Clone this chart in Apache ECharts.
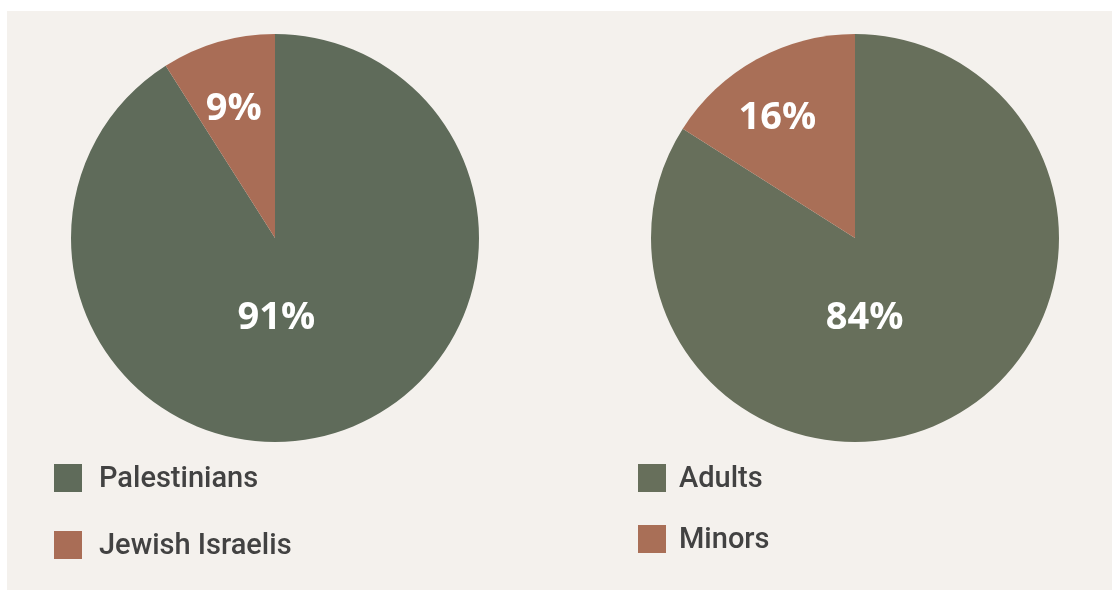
<!DOCTYPE html>
<html><head><meta charset="utf-8">
<script src="https://cdn.jsdelivr.net/npm/echarts@6/dist/echarts.min.js"></script>
<style>html,body{margin:0;padding:0;background:#fff;}#c{width:1112px;height:590px;}</style>
</head><body><div id="c"></div>
<script>
const leftCategories = ['Palestinians', 'Jewish Israelis'];
const leftValues = [91, 9];
const rightCategories = ['Adults', 'Minors'];
const rightValues = [84, 16];

const leftColors = ['#5f6b5a', '#a96d56'];
const rightColors = ['#676f5b', '#a96f57'];
const leftOffsets = [[-28, -21], [-12, -28]];
const rightOffsets = [[-41, -12], [-27, -28]];

function build(cats, vals, colors, offsets) {
  return cats.map((n, i) => ({
    name: n, value: vals[i],
    itemStyle: { color: colors[i] },
    label: { offset: offsets[i] }
  }));
}
const labelStyle = {
  show: true, position: 'inside', formatter: '{c}%',
  color: '#ffffff', fontFamily: 'Open Sans', fontWeight: 'bold', fontSize: 38
};
function legendText(leftPad) {
  return {
    fontFamily: 'Roboto', fontWeight: 500, fontSize: 29, lineHeight: 22, color: '#424242',
    rich: { a: { fontFamily: 'Roboto', fontWeight: 500, fontSize: 29, color: '#424242', lineHeight: 22, padding: [3, 0, 0, leftPad] } }
  };
}
const chart = echarts.init(document.getElementById('c'), null, {renderer: 'canvas'});
chart.setOption({
  backgroundColor: '#ffffff',
  animation: false,
  graphic: [{ type: 'rect', z: -10, shape: { x: 7, y: 11, width: 1105, height: 579 }, style: { fill: '#f4f1ed' } }],
  legend: [
    { data: leftCategories, orient: 'vertical', left: 54, top: 462, padding: 0, itemWidth: 28, itemHeight: 28, itemGap: 35,
      icon: 'rect', selectedMode: false, formatter: '{a|{name}}', textStyle: legendText(12) },
    { data: rightCategories, orient: 'vertical', left: 638, top: 462, padding: 0, itemWidth: 28, itemHeight: 28, itemGap: 29,
      icon: 'rect', selectedMode: false, formatter: '{a|{name}}', textStyle: legendText(8) }
  ],
  series: [
    { type: 'pie', center: [275, 238], radius: 204, startAngle: 90, clockwise: true, silent: true,
      label: labelStyle, labelLine: { show: false }, itemStyle: { borderWidth: 0 },
      data: build(leftCategories, leftValues, leftColors, leftOffsets) },
    { type: 'pie', center: [855, 238], radius: 204, startAngle: 90, clockwise: true, silent: true,
      label: labelStyle, labelLine: { show: false }, itemStyle: { borderWidth: 0 },
      data: build(rightCategories, rightValues, rightColors, rightOffsets) }
  ]
});
</script></body></html>
